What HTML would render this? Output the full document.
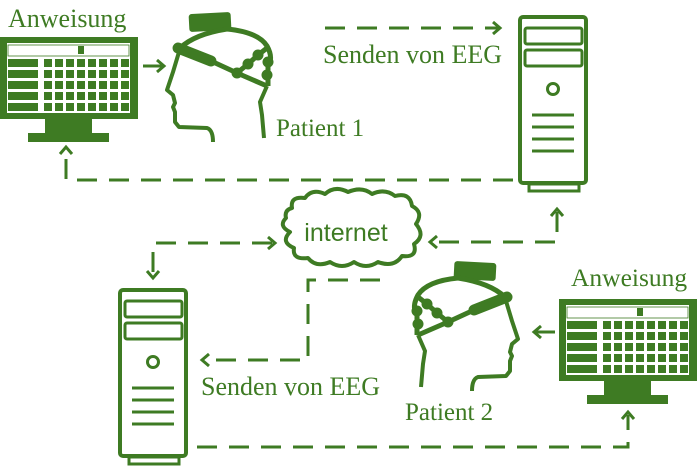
<!DOCTYPE html>
<html><head><meta charset="utf-8"><style>
html,body{margin:0;padding:0;background:#fff;}
svg{display:block;}
text{fill:#3e7b23;}
</style></head><body>
<svg width="697" height="467" viewBox="0 0 697 467" xmlns="http://www.w3.org/2000/svg">
<defs>
<g id="head">
  <rect x="189" y="13" width="42" height="18" rx="3" fill="#3e7b23" transform="rotate(-3 210 22)"/>
  <path d="M180 48 Q195 34 227 29 Q258 32 267 46 Q272 55 270 62" fill="none" stroke="#3e7b23" stroke-width="5"/>
  <path d="M178 48 L211 61" stroke="#3e7b23" stroke-width="11" stroke-linecap="round"/>
  <path d="M211 61 L237 73 L267 86" fill="none" stroke="#3e7b23" stroke-width="5"/>
  <path d="M237 73 L248 64 L258 55 L267 48" fill="none" stroke="#3e7b23" stroke-width="5"/>
  <circle cx="237" cy="73" r="5.5" fill="#3e7b23"/>
  <circle cx="248" cy="64" r="5.5" fill="#3e7b23"/>
  <circle cx="258" cy="55" r="5.5" fill="#3e7b23"/>
  <circle cx="268" cy="62" r="5.5" fill="#3e7b23"/>
  <circle cx="267" cy="75" r="5.5" fill="#3e7b23"/>
  <path d="M268 57 L268 86" stroke="#3e7b23" stroke-width="5"/>
  <path d="M179 52 L173 72 L167 90 L173 95 L175 103 L173 107 L175 112 L175 122 L179 127 L207 128 Q213 130 213 142" fill="none" stroke="#3e7b23" stroke-width="4" stroke-linejoin="round"/>
  <path d="M267 86 L260 102 L262 115 L264 138" fill="none" stroke="#3e7b23" stroke-width="4"/>
</g>
<g id="server">
  <rect x="2" y="2" width="66" height="166" rx="3" fill="none" stroke="#3e7b23" stroke-width="4"/>
  <rect x="11" y="169" width="50" height="7" fill="none" stroke="#3e7b23" stroke-width="3"/>
  <rect x="7" y="13" width="57" height="16" rx="2" fill="none" stroke="#3e7b23" stroke-width="3"/>
  <rect x="7" y="35" width="57" height="16" rx="2" fill="none" stroke="#3e7b23" stroke-width="3"/>
  <circle cx="35" cy="74" r="5.5" fill="none" stroke="#3e7b23" stroke-width="3"/>
  <path d="M14 100 H56 M14 112 H56 M14 124 H56 M14 136 H56" stroke="#3e7b23" stroke-width="3"/>
</g>
<g id="monitor">
  <rect x="0" y="0" width="138" height="82" fill="#3e7b23"/>
  <rect x="7" y="6" width="123" height="70" fill="#fff"/>
  <rect x="8" y="8" width="121" height="11" fill="none" stroke="#3e7b23" stroke-width="0.8"/>
  <rect x="78" y="9" width="6" height="8" fill="#3e7b23"/>
  <rect x="8" y="22" width="30" height="8" fill="#3e7b23"/>
  <rect x="8" y="33" width="30" height="8" fill="#3e7b23"/>
  <rect x="8" y="44" width="30" height="8" fill="#3e7b23"/>
  <rect x="8" y="55" width="30" height="8" fill="#3e7b23"/>
  <rect x="8" y="66" width="30" height="8" fill="#3e7b23"/>
  <g fill="#3e7b23">
   <rect x="44" y="22" width="8" height="8"/><rect x="55" y="22" width="8" height="8"/><rect x="66" y="22" width="8" height="8"/><rect x="77" y="22" width="8" height="8"/><rect x="88" y="22" width="8" height="8"/><rect x="99" y="22" width="8" height="8"/><rect x="110" y="22" width="8" height="8"/><rect x="121" y="22" width="8" height="8"/>
   <rect x="44" y="33" width="8" height="8"/><rect x="55" y="33" width="8" height="8"/><rect x="66" y="33" width="8" height="8"/><rect x="77" y="33" width="8" height="8"/><rect x="88" y="33" width="8" height="8"/><rect x="99" y="33" width="8" height="8"/><rect x="110" y="33" width="8" height="8"/><rect x="121" y="33" width="8" height="8"/>
   <rect x="44" y="44" width="8" height="8"/><rect x="55" y="44" width="8" height="8"/><rect x="66" y="44" width="8" height="8"/><rect x="77" y="44" width="8" height="8"/><rect x="88" y="44" width="8" height="8"/><rect x="99" y="44" width="8" height="8"/><rect x="110" y="44" width="8" height="8"/><rect x="121" y="44" width="8" height="8"/>
   <rect x="44" y="55" width="8" height="8"/><rect x="55" y="55" width="8" height="8"/><rect x="66" y="55" width="8" height="8"/><rect x="77" y="55" width="8" height="8"/><rect x="88" y="55" width="8" height="8"/><rect x="99" y="55" width="8" height="8"/><rect x="110" y="55" width="8" height="8"/><rect x="121" y="55" width="8" height="8"/>
   <rect x="44" y="66" width="8" height="8"/><rect x="55" y="66" width="8" height="8"/><rect x="66" y="66" width="8" height="8"/><rect x="77" y="66" width="8" height="8"/><rect x="88" y="66" width="8" height="8"/><rect x="99" y="66" width="8" height="8"/><rect x="110" y="66" width="8" height="8"/><rect x="121" y="66" width="8" height="8"/>
  </g>
  <rect x="45" y="82" width="47" height="15" fill="#3e7b23"/>
  <rect x="28" y="96" width="81" height="9" fill="#3e7b23"/>
</g>
</defs>

<g fill="none" stroke="#3e7b23" stroke-width="3">
 <path d="M143 66 H164 M157 60 L164 66 L157 72"/>
 <path d="M555 332 H534 M541 326 L534 332 L541 338"/>
 <path d="M325 28 H500" stroke-dasharray="20 12"/>
 <path d="M493 22 L500 28 L493 34"/>
 <path d="M513 180 H66 V150" stroke-dasharray="20 12"/>
 <path d="M60 154 L66 147 L72 154"/>
 <path d="M557 212 V242 H432" stroke-dasharray="20 12"/>
 <path d="M551 216 L557 209 L563 216"/>
 <path d="M437 236 L430 242 L437 248"/>
 <path d="M272 243 H153 V276" stroke-dasharray="20 12"/>
 <path d="M268 237 L275 243 L268 249"/>
 <path d="M147 271 L153 278 L159 271"/>
 <path d="M380 280 H308 V360 H205" stroke-dasharray="20 12"/>
 <path d="M209 354 L202 360 L209 366"/>
 <path d="M197 447 H628 V415" stroke-dasharray="20 12"/>
 <path d="M622 419 L628 412 L634 419"/>
</g>

<path d="M292 208 Q290 196 305 198 Q312 188 325 194 Q335 185 348 192 Q362 186 372 194 Q385 188 395 196 Q410 192 412 206 Q424 212 416 224 Q426 236 414 244 Q418 258 402 256 Q394 268 378 262 Q366 270 354 262 Q342 270 330 262 Q316 268 308 258 Q292 260 294 248 Q280 242 290 232 Q278 226 286 218 Q284 210 292 208 Z" fill="none" stroke="#3e7b23" stroke-width="4" stroke-linejoin="round"/>
<text x="346" y="241" font-family="Liberation Sans, sans-serif" font-size="25" text-anchor="middle">internet</text>

<use href="#head"/>
<use href="#head" transform="translate(685 249) scale(-1 1)"/>
<use href="#server" transform="translate(518 15)"/>
<use href="#server" transform="translate(118 288)"/>
<use href="#monitor" transform="translate(0 37)"/>
<use href="#monitor" transform="translate(559 299)"/>

<g font-family="Liberation Serif, serif">
 <text x="8" y="27" font-size="26">Anweisung</text>
 <text x="571" y="286" font-size="25.5">Anweisung</text>
 <text x="276" y="136" font-size="25">Patient 1</text>
 <text x="405" y="420" font-size="25">Patient 2</text>
 <text x="323" y="63" font-size="26">Senden von EEG</text>
 <text x="201" y="395" font-size="26">Senden von EEG</text>
</g>
</svg>
</body></html>
